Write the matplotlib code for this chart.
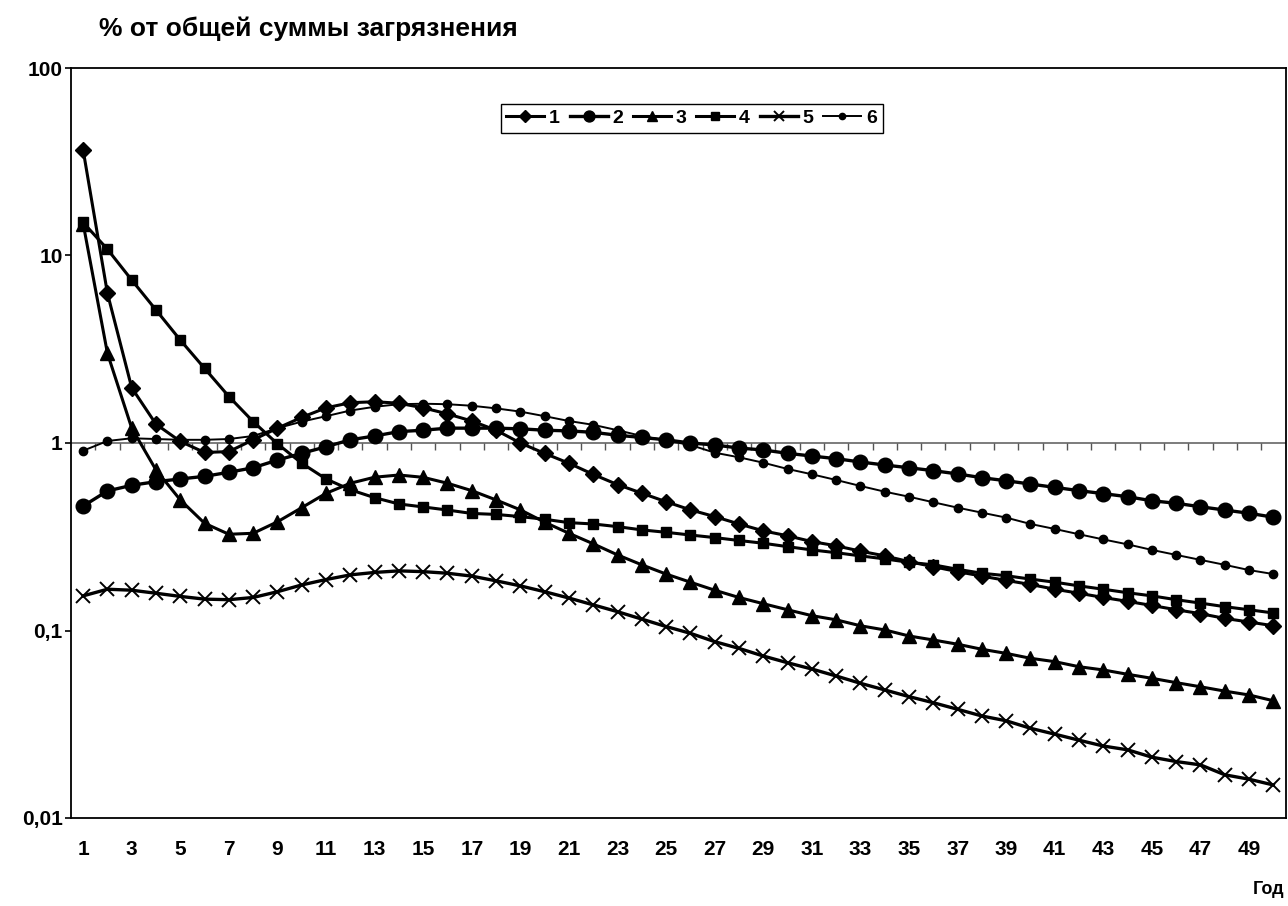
import matplotlib
matplotlib.use("Agg")
import matplotlib.pyplot as plt
import numpy as np

plt.rcParams['font.family'] = ['Liberation Sans', 'DejaVu Sans']
plt.rcParams['font.weight'] = 'bold'

years = list(range(1, 51))

s1 = [36.5, 6.29, 1.97, 1.26, 1.02, 0.89, 0.90, 1.04, 1.20, 1.37,
      1.54, 1.64, 1.66, 1.63, 1.54, 1.43, 1.31, 1.17, 1.00, 0.88,
      0.78, 0.68, 0.60, 0.54, 0.486, 0.44, 0.405, 0.37, 0.34, 0.32,
      0.298, 0.283, 0.265, 0.25, 0.233, 0.219, 0.206, 0.195, 0.185, 0.176,
      0.166, 0.158, 0.150, 0.143, 0.136, 0.129, 0.123, 0.116, 0.111, 0.106]

s2 = [0.461, 0.555, 0.595, 0.622, 0.643, 0.664, 0.698, 0.738, 0.811, 0.881,
      0.955, 1.04, 1.09, 1.15, 1.17, 1.20, 1.20, 1.20, 1.19, 1.17,
      1.16, 1.14, 1.10, 1.07, 1.04, 1.00, 0.976, 0.94, 0.918, 0.881,
      0.852, 0.825, 0.792, 0.763, 0.738, 0.712, 0.684, 0.653, 0.629, 0.604,
      0.58, 0.557, 0.537, 0.517, 0.492, 0.477, 0.457, 0.439, 0.422, 0.402]

s3 = [14.8, 3.01, 1.20, 0.718, 0.497, 0.373, 0.326, 0.33, 0.38, 0.452,
      0.539, 0.61, 0.657, 0.675, 0.656, 0.61, 0.557, 0.497, 0.44, 0.378,
      0.33, 0.29, 0.253, 0.224, 0.20, 0.181, 0.164, 0.15, 0.139, 0.129,
      0.12, 0.114, 0.106, 0.1007, 0.0935, 0.089, 0.0845, 0.0794, 0.0755, 0.0711,
      0.0682, 0.0641, 0.0616, 0.0584, 0.0556, 0.0527, 0.0501, 0.0475, 0.0453, 0.0422]

s4 = [15.0, 10.8, 7.4, 5.12, 3.54, 2.5, 1.77, 1.3, 0.99, 0.78,
      0.643, 0.563, 0.511, 0.473, 0.456, 0.439, 0.421, 0.416, 0.405, 0.392,
      0.376, 0.37, 0.358, 0.344, 0.334, 0.323, 0.313, 0.302, 0.292, 0.28,
      0.269, 0.26, 0.25, 0.241, 0.231, 0.224, 0.212, 0.202, 0.196, 0.188,
      0.181, 0.173, 0.166, 0.159, 0.153, 0.146, 0.14, 0.134, 0.129, 0.124]

s5 = [0.153, 0.166, 0.164, 0.158, 0.152, 0.147, 0.146, 0.15, 0.161, 0.175,
      0.187, 0.198, 0.204, 0.208, 0.206, 0.202, 0.195, 0.184, 0.173, 0.161,
      0.149, 0.137, 0.126, 0.115, 0.105, 0.0966, 0.0872, 0.0803, 0.0731, 0.0673,
      0.0623, 0.0572, 0.0523, 0.0482, 0.0444, 0.0412, 0.038, 0.035, 0.033, 0.0301,
      0.028, 0.026, 0.0242, 0.0231, 0.0211, 0.02, 0.0192, 0.017, 0.0161, 0.015]

s6 = [0.91, 1.025, 1.06, 1.05, 1.04, 1.04, 1.05, 1.09, 1.2, 1.3,
      1.39, 1.49, 1.56, 1.61, 1.62, 1.61, 1.58, 1.53, 1.47, 1.39,
      1.31, 1.25, 1.17, 1.09, 1.03, 0.976, 0.888, 0.839, 0.785, 0.727,
      0.681, 0.635, 0.59, 0.55, 0.517, 0.483, 0.452, 0.425, 0.40, 0.37,
      0.348, 0.326, 0.306, 0.288, 0.269, 0.253, 0.238, 0.224, 0.21, 0.20]

series_labels = ['1', '2', '3', '4', '5', '6']
y_ticks = [0.01, 0.1, 1, 10, 100]
y_tick_labels = ['0,01', '0,1', '1', '10', '100']
x_tick_labels = [str(v) for v in range(1, 50, 2)]

fig = plt.figure(figsize=(12.88, 9.06), dpi=100)
ax = fig.add_axes([71 / 1288, 1 - 818 / 906, (1285.5 - 71) / 1288, (818 - 68) / 906])

styles = [
    dict(marker='D', ms=8, lw=2.2),
    dict(marker='o', ms=10.5, lw=2.4),
    dict(marker='^', ms=9.5, lw=2.2),
    dict(marker='s', ms=7.5, lw=2.2),
    dict(marker='x', ms=10, lw=2.4, mew=1.4),
    dict(marker='o', ms=6, lw=1.4),
]

# reference line at 1 %, with tick marks at category boundaries
ax.axhline(1, color='#666666', lw=1.2, zorder=1)
bounds = np.arange(1.5, 50.0, 1.0)
ax.plot(bounds, np.ones_like(bounds), ls='none', marker=3, ms=5,
        mew=1.0, color='#555555', zorder=1)

for data, lab, st in zip([s1, s2, s3, s4, s5, s6], series_labels, styles):
    ax.plot(years, data, color='black', label=lab, zorder=3,
            markerfacecolor='black', markeredgecolor='black', **st)

ax.set_yscale('log')
ax.set_ylim(0.01, 100)
ax.set_xlim(0.5, 50.5)
ax.set_yticks(y_ticks)
ax.set_yticklabels(y_tick_labels, fontsize=15, fontweight='bold')
ax.yaxis.set_minor_locator(matplotlib.ticker.NullLocator())
ax.tick_params(axis='y', direction='out', length=4, width=1.2, pad=2)

ax.set_xticks(list(range(1, 50, 2)))
ax.set_xticklabels(x_tick_labels, fontsize=15, fontweight='bold')
ax.tick_params(axis='x', length=0, pad=16)

for sp in ax.spines.values():
    sp.set_linewidth(1.3)
    sp.set_color('black')

fig.text(99 / 1288, 1 - 29 / 906, '% от общей суммы загрязнения',
         fontsize=19, fontweight='bold', va='center', ha='left')
fig.text(1284 / 1288, 1 - 889 / 906, 'Год', fontsize=13,
         fontweight='bold', va='center', ha='right')

leg = ax.legend(loc='center', bbox_to_anchor=(0.511, 0.933), ncol=6,
                frameon=True, fancybox=False, shadow=False,
                handlelength=1.95, handletextpad=0.25, columnspacing=0.5,
                borderpad=0.3, markerscale=0.75,
                prop={'weight': 'bold', 'size': 14})
leg.get_frame().set_edgecolor('black')
leg.get_frame().set_linewidth(1.0)
leg.get_frame().set_alpha(1)

fig.savefig('out.png', dpi=100)
